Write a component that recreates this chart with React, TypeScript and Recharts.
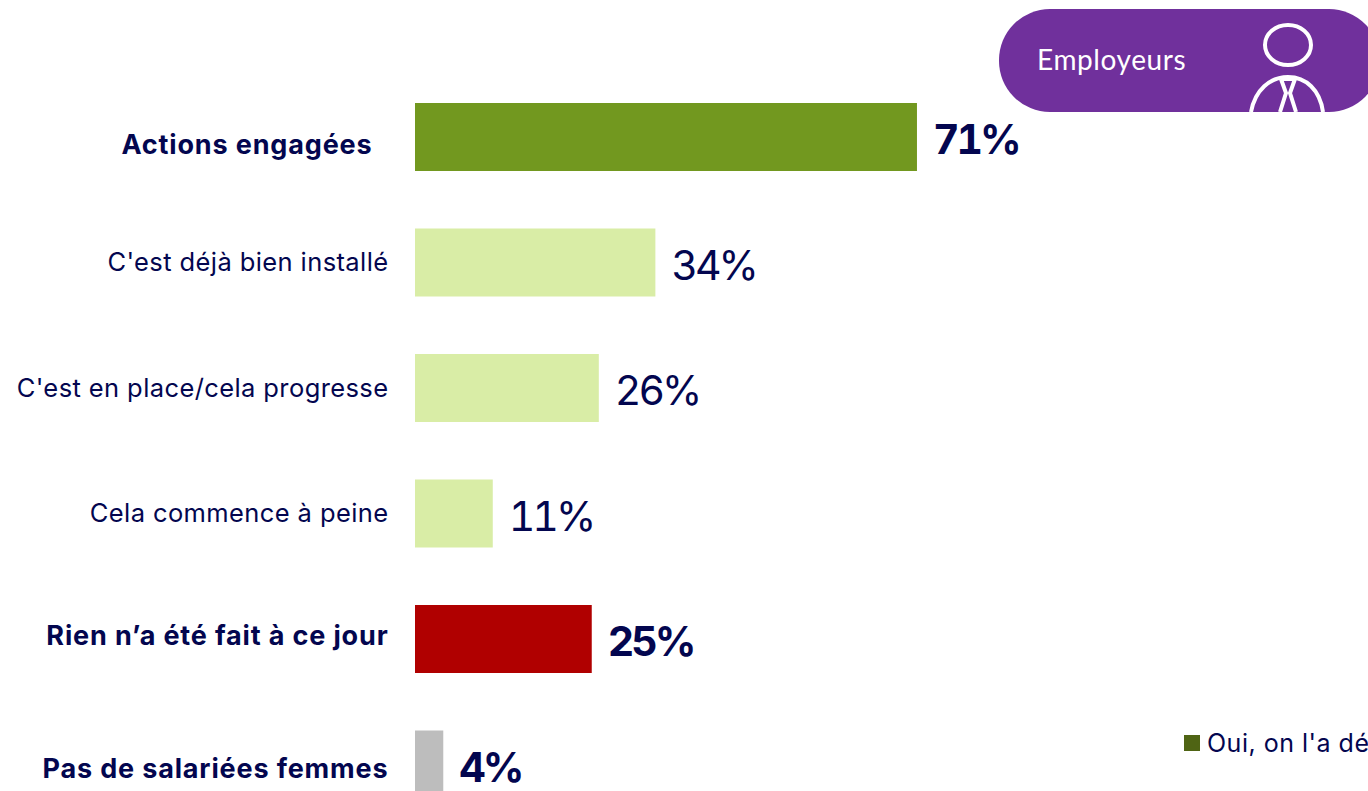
import { BarChart, Bar, Cell, XAxis, YAxis, LabelList, Legend } from 'recharts';

const CATEGORIES = [
  'Actions engagées',
  "C'est déjà bien installé",
  "C'est en place/cela progresse",
  'Cela commence à peine',
  'Rien n’a été fait à ce jour',
  'Pas de salariées femmes',
];
const VALUES = [71, 34, 26, 11, 25, 4];
const BAR_COLORS = ['#72981f', '#d9eda6', '#d9eda6', '#d9eda6', '#b00000', '#bdbdbd'];
const BOLD = [true, false, false, false, true, true];
const LEGEND_LABEL = "Oui, on l'a dé";

const NAVY = '#03064f';
const FONT = 'Inter, sans-serif';

const data = CATEGORIES.map((name, i) => ({ name, value: VALUES[i] }));

// the labels in the source are not all centred on their bars
const TICK_NUDGE: Record<string, [number, number]> = {
  'Actions engagées': [-16, 8],
  'Rien n’a été fait à ce jour': [0, -3],
  'Pas de salariées femmes': [0, 4],
};

function CategoryTick({ y, payload }: any) {
  const i = CATEGORIES.indexOf(payload.value);
  const [dx, dy] = TICK_NUDGE[payload.value] ?? [0, 0];
  return (
    <text
      x={388.5 + dx}
      y={y + dy}
      dy="0.35em"
      textAnchor="end"
      fontFamily={FONT}
      fontSize={BOLD[i] ? 27 : 25.5}
      letterSpacing={BOLD[i] ? 0.85 : 0.4}
      fontWeight={BOLD[i] ? 700 : 400}
      fill={NAVY}
    >
      {payload.value}
    </text>
  );
}

function ValueLabel({ x, y, width, height, value, index }: any) {
  return (
    <text
      x={x + width + 16}
      y={y + height / 2 + 3}
      dy="0.35em"
      fontFamily={FONT}
      fontSize={41}
      letterSpacing={-3}
      fontWeight={BOLD[index] ? 700 : 400}
      fill={NAVY}
      style={{ fontVariantNumeric: 'tabular-nums' }}
    >
      {value}%
    </text>
  );
}

function LegendRow() {
  return (
    <div style={{ display: 'flex', alignItems: 'center', gap: 7, whiteSpace: 'nowrap', fontFamily: FONT, fontSize: 25, letterSpacing: 0.5, color: NAVY }}>
      <span style={{ width: 16, height: 16, background: '#4f6414', display: 'inline-block' }} />
      {LEGEND_LABEL}
    </div>
  );
}

function EmployeursBadge() {
  return (
    <svg width={1368} height={791} style={{ position: 'absolute', left: 0, top: 0, pointerEvents: 'none' }}>
      <rect x={999} y={9} width={381} height={103} rx={51} fill="#70309c" />
      <text x={1037} y={70} fontFamily="Lato, sans-serif" fontSize={28} letterSpacing={0.6} fill="#fff">
        Employeurs
      </text>
      <g fill="none" stroke="#fff" strokeWidth={4}>
        <ellipse cx={1288} cy={45} rx={23} ry={20} />
        <path d="M1251 112 C1255 90 1270 77 1288 77 C1306 77 1320 90 1323 112" />
        <path d="M1281 79 L1295 79 L1290 93 L1296 112 M1281 79 L1286 93 L1280 112" />
      </g>
    </svg>
  );
}

export default function App() {
  return (
    <div style={{ position: 'absolute', left: 0, top: 0, width: 1368, height: 791, overflow: 'hidden', background: '#fff' }}>
      <BarChart
        width={1368}
        height={830}
        data={data}
        layout="vertical"
        barSize={68}
        margin={{ top: 74, right: 246, bottom: 3, left: 0 }}
      >
        <XAxis type="number" domain={[0, 100]} hide />
        <YAxis
          type="category"
          dataKey="name"
          width={415}
          axisLine={false}
          tickLine={false}
          interval={0}
          tick={<CategoryTick />}
        />
        <Bar dataKey="value" isAnimationActive={false}>
          {data.map((d, i) => (
            <Cell key={d.name} fill={BAR_COLORS[i]} />
          ))}
          <LabelList dataKey="value" content={<ValueLabel />} />
        </Bar>
        <Legend
          verticalAlign="middle"
          content={<LegendRow />}
          wrapperStyle={{ position: 'absolute', left: 1184, top: 728, width: 'auto', bottom: 'auto' }}
        />
      </BarChart>
      <EmployeursBadge />
    </div>
  );
}
